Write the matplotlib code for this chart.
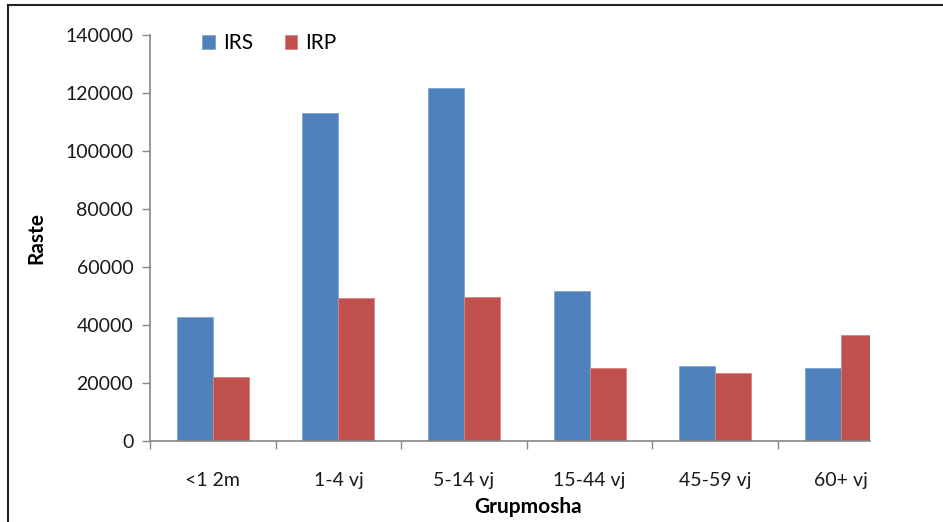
import numpy as np
import matplotlib
matplotlib.use("Agg")
import matplotlib.pyplot as plt
from matplotlib.lines import Line2D

# data
groups = ["<1 2m", "1-4 vj", "5-14 vj", "15-44 vj", "45-59 vj", "60+ vj"]
irs = [42600, 113100, 121700, 51700, 26000, 25300]
irp = [22100, 49200, 49600, 25300, 23500, 36700]
yticks = [0, 20000, 40000, 60000, 80000, 100000, 120000, 140000]

plt.rcParams['font.family'] = ['Lato', 'DejaVu Sans']

W, H = 943, 522
fig = plt.figure(figsize=(W / 100, H / 100), dpi=100)
ax = fig.add_axes([150 / W, 81 / H, 720 / W, 406 / H])

x = np.arange(len(groups))
bw = 36 / 125.6
ax.bar(x - bw / 2, irs, bw, color='#4F81BD', edgecolor='#7fa3d3', linewidth=0.6, label='IRS')
ax.bar(x + bw / 2, irp, bw, color='#C0504D', edgecolor='#d88380', linewidth=0.6, label='IRP')

ax.set_xlim(-0.5, -0.5 + 720 / 125.6)
ax.set_ylim(0, 140000)
ax.set_yticks(yticks)
ax.set_yticklabels([str(v) for v in yticks], fontsize=14, color='#1a1a1a')
ax.set_xticks(x)
ax.set_xticklabels(groups, fontsize=14, color='#1a1a1a')
ax.set_xticks(np.arange(-0.5, 5, 1.0), minor=True)
ax.tick_params(axis='x', which='major', length=0, pad=22)
ax.tick_params(axis='x', which='minor', length=6, color='#868686', width=1)
ax.tick_params(axis='y', length=6, color='#868686', width=1, pad=6)

for s in ['top', 'right']:
    ax.spines[s].set_visible(False)
for s in ['left', 'bottom']:
    ax.spines[s].set_color('#868686')
    ax.spines[s].set_linewidth(1.2)

ax.set_ylabel('Raste', fontsize=15, fontweight='bold', labelpad=0)
ax.yaxis.set_label_coords(-104 / 720, 0.5)
fig.text(528 / W, 1 - 507 / H, 'Grupmosha', fontsize=15, fontweight='bold',
         ha='center', va='center')

ax.legend(loc='upper left', bbox_to_anchor=(42 / 720, 1.03), ncol=2, frameon=False,
          fontsize=15, handlelength=0.6, handleheight=0.6, handletextpad=0.4,
          columnspacing=1.5, borderaxespad=0.1)

# chart frame (only top and left visible in the reference)
fig.add_artist(Line2D([8 / W, 8 / W], [0, 1 - 5 / H], color='#222222', lw=1.5))
fig.add_artist(Line2D([8 / W, 1], [1 - 5 / H, 1 - 5 / H], color='#222222', lw=1.5))

fig.savefig('out.png', dpi=100)
